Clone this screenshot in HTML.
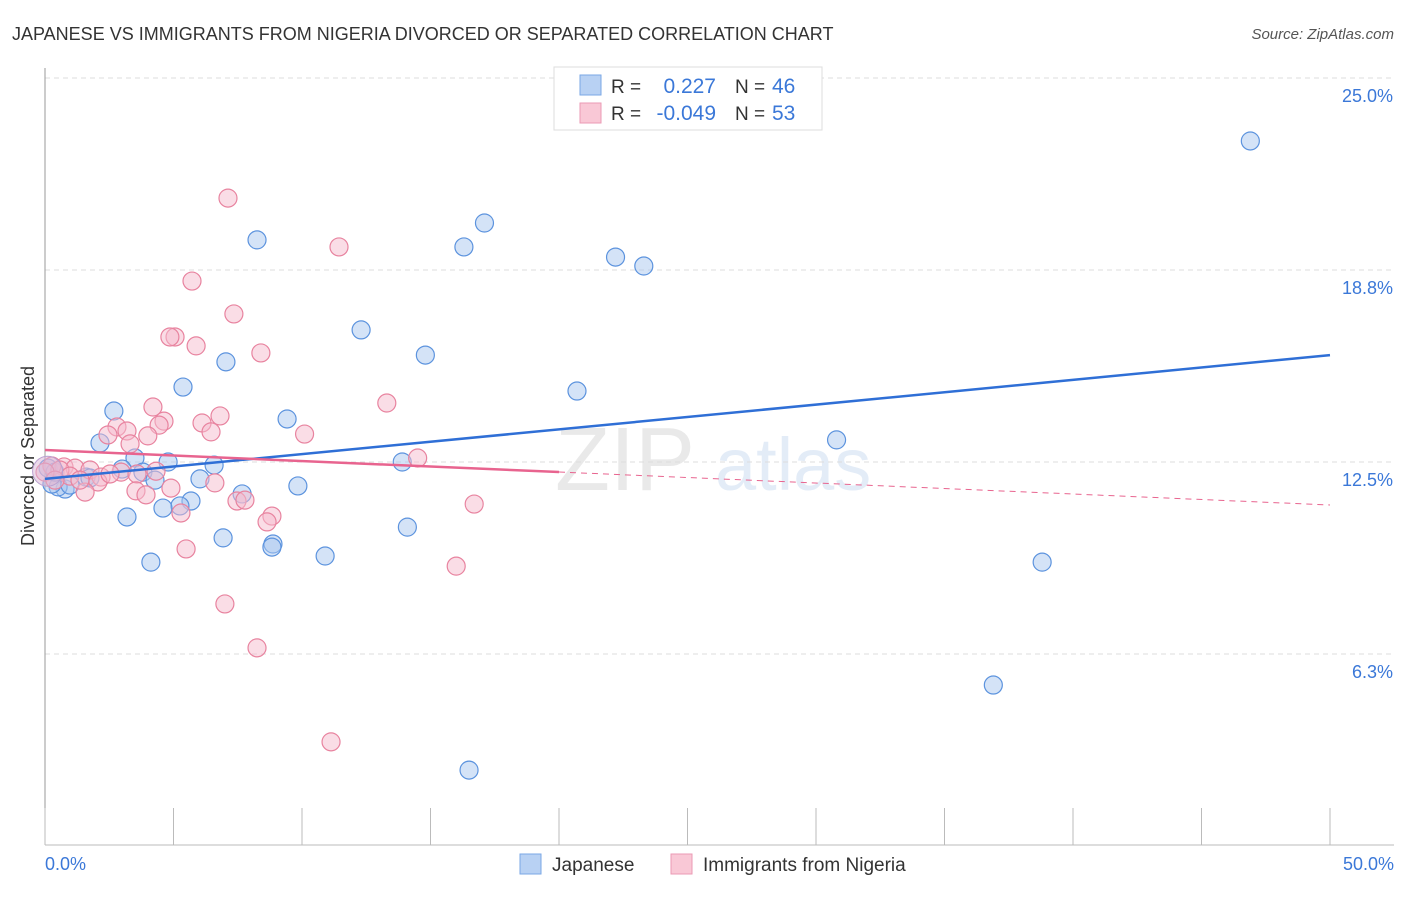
<!DOCTYPE html>
<html><head><meta charset="utf-8"><style>
body{margin:0;background:#fff;font-family:"Liberation Sans",sans-serif}
svg text{font-family:"Liberation Sans",sans-serif}
</style></head><body>
<svg width="1406" height="892">
<text x="12" y="40" font-size="18" fill="#333">JAPANESE VS IMMIGRANTS FROM NIGERIA DIVORCED OR SEPARATED CORRELATION CHART</text>
<text x="1394" y="39" font-size="15" fill="#555" text-anchor="end" font-style="italic">Source: ZipAtlas.com</text>
<g opacity="0.18">
<text x="555" y="490" font-size="90" font-family="Liberation Serif" fill="#888">ZIP</text>
<text x="715" y="490" font-size="74" fill="#6a9ad8">atlas</text>
</g>
<g id="grid"></g>
<line x1="45" y1="68" x2="45" y2="845" stroke="#999"/>
<line x1="45" y1="845" x2="1394" y2="845" stroke="#bbb"/>
<g id="xticks"></g>
<text x="45" y="870" font-size="18" fill="#3b78d8">0.0%</text>
<text x="1394" y="870" font-size="18" fill="#3b78d8" text-anchor="end">50.0%</text>
<text transform="translate(34,456) rotate(-90)" font-size="18" fill="#333" text-anchor="middle">Divorced or Separated</text>
<g id="pts"></g>
<g id="lines"></g>
<g>
<rect x="554" y="67" width="268" height="63" fill="#fff" stroke="#ddd"/>
<rect x="580" y="75" width="21" height="20" fill="#b8d1f3" stroke="#7aa7e6"/>
<rect x="580" y="103" width="21" height="20" fill="#f9c8d6" stroke="#eb9ab4"/>
<text x="611" y="93" font-size="19" fill="#333">R = </text><text x="716" y="93" font-size="21" fill="#3b78d8" text-anchor="end">0.227</text>
<text x="735" y="93" font-size="19" fill="#333">N = </text><text x="772" y="93" font-size="21" fill="#3b78d8">46</text>
<text x="611" y="120" font-size="19" fill="#333">R = </text><text x="716" y="120" font-size="21" fill="#3b78d8" text-anchor="end">-0.049</text>
<text x="735" y="120" font-size="19" fill="#333">N = </text><text x="772" y="120" font-size="21" fill="#3b78d8">53</text>
</g>
<g>
<rect x="520" y="854" width="21" height="20" fill="#b8d1f3" stroke="#7aa7e6"/>
<text x="552" y="871" font-size="19" fill="#333">Japanese</text>
<rect x="671" y="854" width="21" height="20" fill="#f9c8d6" stroke="#eb9ab4"/>
<text x="703" y="871" font-size="19" fill="#333">Immigrants from Nigeria</text>
</g>
</svg>
<script>
const yTicks=[6.25,12.5,18.75,25];
const yTickLabels=["6.3%","12.5%","18.8%","25.0%"];
const xTicks=[0,5,10,15,20,25,30,35,40,45,50];
const japX=[46.9,17.1,8.25,16.3,22.2,23.3,12.3,14.8,7.04,5.37,20.7,2.68,9.42,30.8,2.14,3.5,4.79,13.9,6.58,3.0,3.81,4.28,6.03,1.6,9.84,0.78,0.51,0.27,7.67,5.68,5.25,4.59,3.19,6.93,8.87,8.83,10.9,4.12,14.1,38.8,36.9,16.5,0.12,0.97,1.75,0.39];
const japY=[22.95,20.28,19.73,19.5,19.17,18.88,16.8,15.98,15.76,14.94,14.81,14.16,13.9,13.22,13.12,12.63,12.5,12.5,12.4,12.27,12.17,11.91,11.95,12.01,11.72,11.62,11.69,11.78,11.46,11.23,11.07,11.0,10.71,10.03,9.83,9.73,9.44,9.24,10.38,9.24,5.24,2.47,12.3,11.75,11.98,12.17];
const nigX=[7.12,11.44,5.72,7.35,5.06,4.86,5.88,8.4,13.3,4.2,6.81,4.63,6.11,4.44,2.8,3.19,2.45,4.0,6.46,10.1,3.31,14.5,0.74,1.17,1.75,2.96,3.58,2.18,4.32,6.61,2.06,4.9,3.54,1.56,3.93,7.47,7.78,16.7,5.29,8.83,8.64,5.49,16.0,7.0,8.25,11.13,0.27,0.58,0.97,1.36,2.53,0,0.39];
const nigY=[21.09,19.5,18.39,17.32,16.57,16.57,16.28,16.05,14.42,14.29,14.0,13.83,13.77,13.7,13.64,13.51,13.38,13.35,13.48,13.41,13.09,12.63,12.34,12.3,12.24,12.17,12.11,12.01,12.2,11.82,11.85,11.65,11.56,11.52,11.43,11.23,11.26,11.13,10.84,10.74,10.55,9.67,9.11,7.88,6.45,3.39,12.37,12.24,12.04,11.91,12.11,12.17,11.91];
const japTrend=[11.95,15.98];
const nigTrend=[12.89,11.1];
const nigSolidEnd=20;
const NS="http://www.w3.org/2000/svg";
const sx=v=>45+v*25.7, sy=v=>462-(v-12.5)*30.72;
function mk(t,a,p){const e=document.createElementNS(NS,t);for(const k in a)e.setAttribute(k,a[k]);p.appendChild(e);return e;}
const grid=document.getElementById('grid');
yTicks.forEach((v,i)=>{
 const l=mk('line',{x1:45,x2:1394,y1:sy(v),y2:sy(v),stroke:'#ddd','stroke-dasharray':'5,4'},grid);
 
 
 const t=mk('text',{x:1393,y:sy(v)+24,'font-size':18,fill:'#3b78d8','text-anchor':'end'},grid);
 t.textContent=yTickLabels[i];
 
 
});
const xt=document.getElementById('xticks');
xTicks.forEach(v=>{
 const l=mk('line',{x1:sx(v),x2:sx(v),y1:808,y2:845,stroke:'#bbb'},xt);
 
 
});
const pts=document.getElementById('pts');
function dots(X,Y,fill,stroke,name){X.forEach((x,i)=>{
 const c=mk('circle',{cx:sx(x),cy:sy(Y[i]),r:9,fill:fill,'fill-opacity':0.5,stroke:stroke,'stroke-width':1.2},pts);
 
 
});}
dots(japX,japY,'#a9c8f0','#5c93de','japanese-point');
dots(nigX,nigY,'#f6bccd','#e8839f','nigeria-point');
const big=mk('circle',{cx:sx(0.1),cy:sy(12.2),r:15,fill:'#d9b6d6','fill-opacity':0.5,stroke:'#b9a0d0'},pts);


const ln=document.getElementById('lines');
const bl=mk('line',{x1:sx(0),y1:sy(japTrend[0]),x2:sx(50),y2:sy(japTrend[1]),stroke:'#2f6fd6','stroke-width':2.5},ln);


const pAt=x=>nigTrend[0]+(nigTrend[1]-nigTrend[0])*x/50;
const pl=mk('line',{x1:sx(0),y1:sy(pAt(0)),x2:sx(nigSolidEnd),y2:sy(pAt(nigSolidEnd)),stroke:'#e8648f','stroke-width':2.5},ln);


const pd=mk('line',{x1:sx(nigSolidEnd),y1:sy(pAt(nigSolidEnd)),x2:sx(50),y2:sy(pAt(50)),stroke:'#e8648f','stroke-width':1,'stroke-dasharray':'6,5'},ln);


</script>
</body></html>
